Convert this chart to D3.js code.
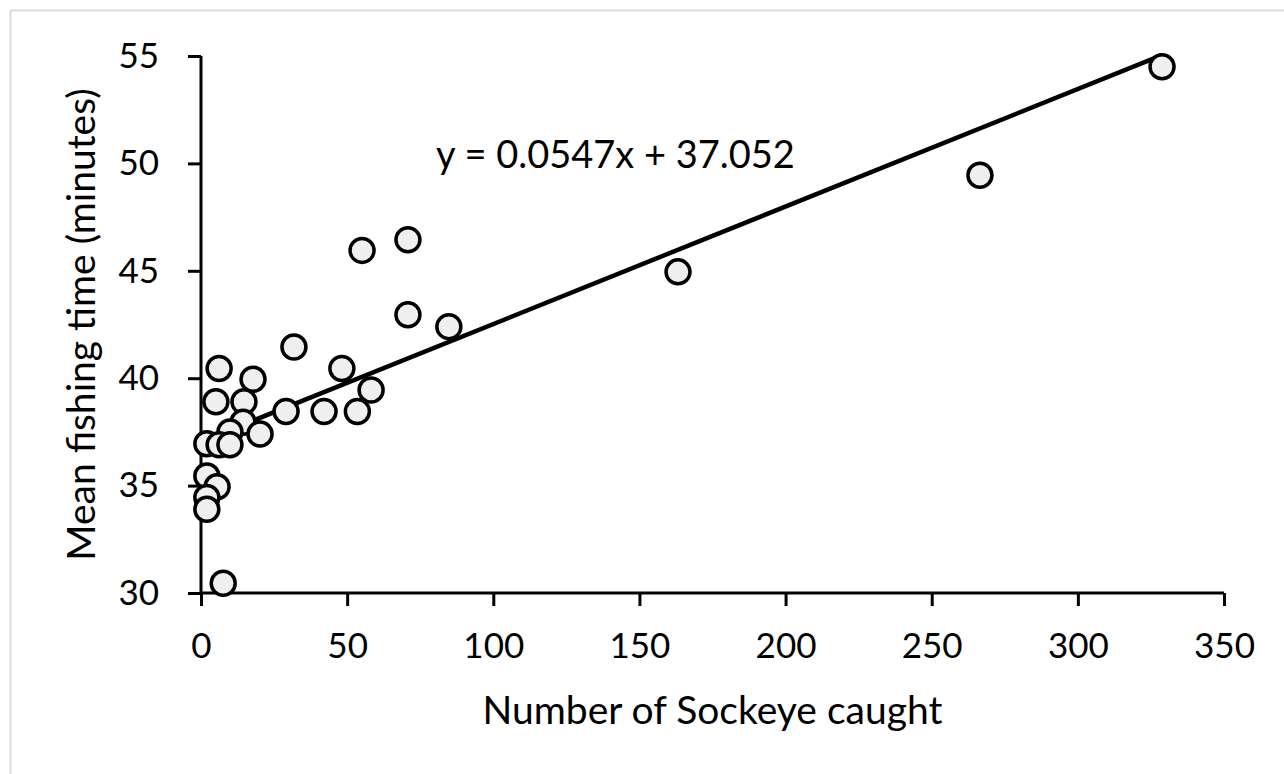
<!DOCTYPE html>
<html>
<head>
<meta charset="utf-8">
<script src="https://cdn.jsdelivr.net/npm/d3@7"></script>
<style>
  html, body { margin: 0; padding: 0; background: #fff; }
  svg { display: block; font-family: Lato, "Open Sans", sans-serif; }
</style>
</head>
<body>
<svg id="chart" width="1284" height="774"></svg>
<script>
// Sockeye catch vs. mean fishing time, one point per trip group
const sockeyeCaught = [328.8, 266.5, 163.2, 70.8, 55.1, 70.8, 84.8, 31.8, 48.2, 58.2,
  53.5, 42.1, 29.1, 17.8, 6.2, 5.1, 14.7, 14.4, 20.2, 9.9,
  2.0, 6.2, 9.9, 2.0, 5.5, 2.0, 2.0, 7.6];
const meanFishingTime = [54.5, 49.45, 44.95, 46.45, 45.95, 42.95, 42.4, 41.45, 40.45, 39.45,
  38.45, 38.45, 38.45, 39.95, 40.45, 38.9, 38.9, 37.95, 37.4, 37.5,
  36.95, 36.9, 36.9, 35.45, 34.95, 34.45, 33.9, 30.45];

// Linear trend line
const slope = 0.0547;
const intercept = 37.052;
const trendLabel = "y = 0.0547x + 37.052";

const xTicks = [0, 50, 100, 150, 200, 250, 300, 350];
const yTicks = [30, 35, 40, 45, 50, 55];
const xTitle = "Number of Sockeye caught";
const yTitle = "Mean fishing time (minutes)";

const svg = d3.select("#chart");

// Chart frame
svg.append("rect")
  .attr("x", 10.5).attr("y", 10.5)
  .attr("width", 1300).attr("height", 800)
  .attr("fill", "none").attr("stroke", "#dcdcdc").attr("stroke-width", 2);

const x = d3.scaleLinear().domain([0, 350]).range([201, 1224]);
const y = d3.scaleLinear().domain([30, 55]).range([593, 56]);

const tickFont = 35;
const titleFont = 39;

// Y axis
const yAxis = svg.append("g")
  .attr("transform", `translate(${x(0)},0)`)
  .call(d3.axisLeft(y).tickValues(yTicks).tickSize(13).tickPadding(29).tickFormat(d3.format("d")));
// X axis
const xAxis = svg.append("g")
  .attr("transform", `translate(0,${y(30)})`)
  .call(d3.axisBottom(x).tickValues(xTicks).tickSize(13).tickPadding(27).tickFormat(d3.format("d")));

[yAxis, xAxis].forEach(g => {
  g.select(".domain").attr("stroke", "#000").attr("stroke-width", 3);
  g.selectAll(".tick line").attr("stroke", "#000").attr("stroke-width", 3);
  g.selectAll(".tick text")
    .attr("fill", "#000")
    .style("font-family", "Lato, 'Open Sans', sans-serif")
    .style("font-size", tickFont + "px");
});
// Axis lines without the end caps of the default domain path
yAxis.select(".domain").attr("d", `M0,${y(30)}V${y(55)}`);
xAxis.select(".domain").attr("d", `M${x(0)},0H${x(350)}`);

// Trend line across the observed x range
const xMin = d3.min(sockeyeCaught), xMax = d3.max(sockeyeCaught);
svg.append("line")
  .attr("x1", x(xMin)).attr("y1", y(slope * xMin + intercept))
  .attr("x2", x(xMax)).attr("y2", y(slope * xMax + intercept))
  .attr("stroke", "#000").attr("stroke-width", 4.5);

// Data points
const points = sockeyeCaught.map((v, i) => ({ x: v, y: meanFishingTime[i] }));
svg.append("g").selectAll("circle")
  .data(points)
  .join("circle")
  .attr("cx", d => x(d.x))
  .attr("cy", d => y(d.y))
  .attr("r", 12)
  .attr("fill", "#efefef")
  .attr("stroke", "#000")
  .attr("stroke-width", 3.5);

// Equation label
svg.append("text")
  .attr("x", 436).attr("y", 168)
  .attr("font-size", 38)
  .attr("fill", "#000")
  .text(trendLabel);

// Axis titles
svg.append("text")
  .attr("x", (x(0) + x(350)) / 2).attr("y", 724)
  .attr("text-anchor", "middle")
  .attr("font-size", titleFont)
  .attr("fill", "#000")
  .text(xTitle);

svg.append("text")
  .attr("transform", `translate(95,${(y(30) + y(55)) / 2}) rotate(-90)`)
  .attr("text-anchor", "middle")
  .attr("font-size", titleFont)
  .attr("fill", "#000")
  .text(yTitle);
</script>
</body>
</html>
